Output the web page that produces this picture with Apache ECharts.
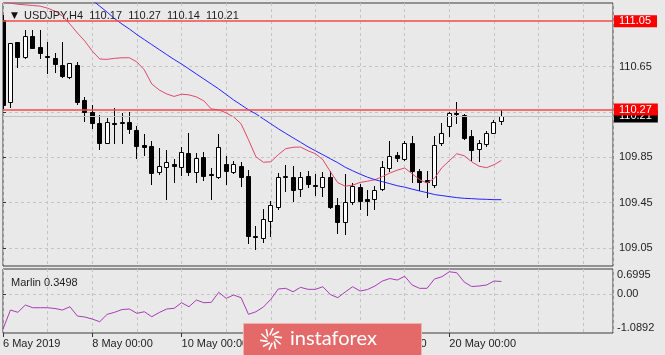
<!DOCTYPE html>
<html>
<head>
<meta charset="utf-8">
<script src="https://cdn.jsdelivr.net/npm/echarts@6/dist/echarts.min.js"></script>
<style>
html,body{margin:0;padding:0;background:#e9e9e9;}
#chart{width:665px;height:355px;}
</style>
</head>
<body>
<div id="chart"></div>
<script>
// ---- data (USDJPY, H4) ----
const symbol = 'USDJPY,H4';
const tickBars = [0, 12, 24, 36, 48, 60];
const tickLabels = ['6 May 2019', '8 May 00:00', '10 May 00:00', '14 May 00:00', '16 May 00:00', '20 May 00:00'];
const priceTicks = [110.65, 110.25, 109.85, 109.45, 109.05];
const priceLabels = [110.65, 109.85, 109.45, 109.05];
const levels = [111.05, 110.27];
const bid = 110.21;
const marlinTicks = [-1.0892, 0, 0.6995];
const marlinLast = 0.3498;

const opens = [111.06,110.335,110.868,110.736,110.918,110.82,110.745,110.727,110.663,110.555,
  110.663,110.355,110.253,110.156,109.98,110.155,110.15,110.165,110.092,109.96,
  109.951,109.72,109.76,109.793,109.764,109.886,109.717,109.852,109.705,109.676,
  109.793,109.72,109.775,109.687,109.154,109.14,109.286,109.412,109.68,109.676,
  109.571,109.681,109.602,109.588,109.676,109.432,109.277,109.453,109.585,109.485,
  109.483,109.573,109.755,109.866,109.834,109.98,109.725,109.646,109.608,109.974,
  110.127,110.244,110.224,110.033,109.921,109.969,110.068,110.17];
const highs = [111.10,110.86,110.87,110.97,110.97,110.97,110.868,110.766,110.868,110.685,
  110.692,110.385,110.31,110.224,110.2,110.283,110.238,110.25,110.127,110.057,
  109.989,109.93,109.91,109.834,109.94,110.063,109.886,109.895,109.755,110.057,
  109.857,109.82,109.804,109.734,109.242,109.395,109.461,109.711,109.778,109.769,
  109.717,109.725,109.705,109.717,109.725,109.491,109.705,109.623,109.617,109.564,
  109.6,109.813,109.989,109.9,109.989,110.033,109.746,109.725,110.033,110.15,
  110.25,110.341,110.232,110.092,110.004,110.078,110.174,110.27];
const lows = [110.28,110.29,110.65,110.722,110.81,110.727,110.59,110.605,110.56,110.55,
  110.317,110.171,110.107,109.925,109.975,109.98,109.98,110.063,109.843,109.866,
  109.614,109.705,109.483,109.63,109.696,109.696,109.63,109.646,109.483,109.67,
  109.614,109.71,109.593,109.096,109.037,109.104,109.154,109.395,109.55,109.461,
  109.512,109.588,109.52,109.512,109.405,109.183,109.177,109.44,109.395,109.344,
  109.395,109.56,109.725,109.813,109.828,109.629,109.564,109.5,109.588,109.96,
  110.033,110.15,110.01,109.828,109.813,109.95,110.063,110.14];
const closes = [110.31,110.854,110.73,110.921,110.815,110.77,110.73,110.672,110.566,110.678,
  110.335,110.247,110.15,109.975,110.16,110.145,110.158,110.1,109.945,109.94,
  109.711,109.769,109.804,109.77,109.895,109.72,109.843,109.687,109.69,109.94,
  109.725,109.793,109.673,109.154,109.145,109.307,109.432,109.676,109.682,109.559,
  109.676,109.617,109.598,109.676,109.412,109.277,109.453,109.593,109.461,109.468,
  109.559,109.764,109.857,109.843,109.974,109.725,109.629,109.63,109.96,110.063,
  110.238,110.232,110.019,109.916,109.98,110.068,110.165,110.21];
const maFast = [111.217,111.208,111.199,111.193,111.188,111.182,111.164,111.138,111.094,111.024,
  110.945,110.874,110.786,110.716,110.713,110.722,110.727,110.727,110.69,110.62,
  110.496,110.443,110.408,110.386,110.406,110.4,110.382,110.347,110.276,110.268,
  110.241,110.206,110.145,110.004,109.854,109.806,109.81,109.872,109.925,109.938,
  109.94,109.907,109.881,109.828,109.723,109.626,109.595,109.604,109.628,109.639,
  109.652,109.679,109.711,109.736,109.755,109.705,109.652,109.623,109.665,109.758,
  109.819,109.881,109.863,109.81,109.771,109.758,109.784,109.822];
const maSlow = [null,null,null,null,null,null,null,null,null,null,
  null,111.279,111.235,111.182,111.129,111.072,111.024,110.98,110.931,110.887,
  110.843,110.799,110.755,110.712,110.672,110.628,110.584,110.54,110.496,110.452,
  110.404,110.355,110.312,110.268,110.232,110.188,110.145,110.101,110.061,110.021,
  109.982,109.942,109.907,109.872,109.837,109.802,109.762,109.731,109.701,109.674,
  109.652,109.635,109.617,109.599,109.586,109.569,109.553,109.538,109.521,109.512,
  109.503,109.494,109.488,109.485,109.481,109.479,109.476,109.476];
const marlin = [-0.978,-0.447,-0.511,-0.307,-0.383,-0.383,-0.383,-0.405,-0.447,-0.355,
  -0.615,-0.643,-0.699,-0.774,-0.567,-0.511,-0.433,-0.419,-0.539,-0.495,
  -0.634,-0.517,-0.419,-0.4,-0.243,-0.355,-0.168,-0.243,-0.232,0.048,
  -0.12,-0.028,-0.103,-0.567,-0.495,-0.363,-0.148,0.14,0.159,0.064,
  0.187,0.131,0.131,0.204,-0.014,-0.103,0.056,0.204,0.084,0.126,
  0.224,0.363,0.433,0.391,0.497,0.252,0.159,0.159,0.419,0.484,
  0.623,0.595,0.335,0.21,0.224,0.252,0.363,0.3498];

// ---- chart ----
const FONT = 'Liberation Sans';
const TXT = '#1e1e1e';
const last = opens.length - 1;
const headline = symbol + '  ' + [opens[last], highs[last], lows[last], closes[last]].map(v => v.toFixed(2)).join('  ');

const candleData = opens.map((o, i) => [i, o, closes[i], lows[i], highs[i]]);

function renderCandle(params, api) {
  const i = api.value(0), o = api.value(1), c = api.value(2), l = api.value(3), h = api.value(4);
  const pO = api.coord([i, o]), pC = api.coord([i, c]), pL = api.coord([i, l]), pH = api.coord([i, h]);
  const cx = Math.floor(pO[0]);
  const yTop = Math.round(Math.min(pO[1], pC[1])) + 0.5;
  const yBot = Math.round(Math.max(pO[1], pC[1])) + 0.5;
  const bull = c > o;
  return {
    type: 'group',
    children: [
      { type: 'line', shape: { x1: cx + 0.5, y1: Math.round(pH[1]), x2: cx + 0.5, y2: Math.round(pL[1]) + 1 },
        style: { stroke: '#000', lineWidth: 1 } },
      { type: 'rect', shape: { x: cx - 1.5, y: yTop, width: 4, height: yBot - yTop },
        style: { fill: bull ? '#ffffff' : '#000000', stroke: '#000', lineWidth: 1 } }
    ]
  };
}

const gridLine = { show: true, lineStyle: { color: '#c4c4c4', type: [3, 3], width: 1 } };

const WM = { zlevel: 5, z: 100 };
const wmElems = [
  Object.assign({ type: 'rect', shape: { x: 243.5, y: 323.5, width: 178, height: 40 },
    style: { fill: '#e46a6a', stroke: '#f3b0b0', lineWidth: 1 } }, WM)
];
for (let k = 0; k < 10; k++) {
  const a = k * Math.PI * 2 / 10;
  wmElems.push(Object.assign({ type: 'line', shape: { x1: 271 + Math.cos(a) * 4, y1: 339 + Math.sin(a) * 4, x2: 271 + Math.cos(a + 0.5) * 11, y2: 339 + Math.sin(a + 0.5) * 11 },
    style: { stroke: '#fff', lineWidth: 1.6 } }, WM));
}
wmElems.push(Object.assign({ type: 'text', x: 290, y: 339,
  style: { text: 'instaforex', fill: '#fff', font: 'normal 20px Lato', textVerticalAlign: 'middle' } }, WM));

const option = {
  backgroundColor: '#e9e9e9',
  animation: false,
  title: [
    { left: 6, top: 5, text: '{t|▼} ' + headline,
      textStyle: { fontFamily: FONT, fontSize: 11, fontWeight: 'normal', color: TXT,
        rich: { t: { fontFamily: 'DejaVu Sans', fontSize: 9, color: '#111', padding: [0, 3, 0, 0] } } } },
    { left: 6, top: 272, text: 'Marlin ' + marlinLast.toFixed(4),
      textStyle: { fontFamily: FONT, fontSize: 11, fontWeight: 'normal', color: TXT } }
  ],
  grid: [
    { left: 3, top: 3, width: 610, height: 263, show: true, borderColor: '#3a3a3a', borderWidth: 1, backgroundColor: 'transparent' },
    { left: 3, top: 269, width: 610, height: 64, show: true, borderColor: '#3a3a3a', borderWidth: 1, backgroundColor: 'transparent' }
  ],
  xAxis: [
    { type: 'value', gridIndex: 0, min: 0, max: 82, interval: 6,
      axisLine: { show: false }, axisTick: { show: false }, axisLabel: { show: false }, splitLine: gridLine },
    { type: 'value', gridIndex: 1, min: 0, max: 82, interval: 6,
      axisLine: { show: false }, axisTick: { show: false }, axisLabel: { show: false }, splitLine: gridLine },
    { type: 'value', gridIndex: 1, min: 0, max: 82, position: 'bottom',
      axisLine: { show: false },
      axisTick: { show: true, customValues: tickBars, length: 4, lineStyle: { color: '#333' } },
      axisLabel: { show: true, customValues: tickBars, align: 'left', margin: 5,
        fontFamily: FONT, fontSize: 11, color: TXT,
        formatter: v => tickLabels[tickBars.indexOf(Math.round(v))] || '' },
      splitLine: { show: false } }
  ],
  yAxis: [
    { type: 'value', gridIndex: 0, position: 'right', min: 108.8913, max: 111.2098, scale: true,
      axisLine: { show: false },
      axisTick: { show: true, customValues: priceTicks, length: 3, lineStyle: { color: '#333' } },
      axisLabel: { show: true, customValues: priceLabels, margin: 6, fontFamily: FONT, fontSize: 11, color: TXT,
        formatter: v => v.toFixed(2) },
      splitLine: gridLine },
    { type: 'value', gridIndex: 1, position: 'right', min: -1.0892, max: 0.6995,
      axisLine: { show: false },
      axisTick: { show: true, customValues: [0], length: 3, lineStyle: { color: '#333' } },
      axisLabel: { show: true, customValues: marlinTicks, margin: 4, fontFamily: FONT, fontSize: 11, color: TXT,
        verticalAlignMinLabel: 'bottom', verticalAlignMaxLabel: 'top', showMinLabel: true, showMaxLabel: true,
        formatter: v => (v === 0 ? '0.00' : v.toFixed(4)) },
      splitLine: gridLine }
  ],
  series: [
    { name: 'bid', type: 'line', xAxisIndex: 0, yAxisIndex: 0, data: [], z: 1,
      markLine: { silent: true, symbol: 'none', animation: false,
        lineStyle: { color: '#c2c2c2', width: 1, type: 'solid' },
        label: { show: true, position: 'end', distance: 1, formatter: p => p.value.toFixed(2),
          backgroundColor: '#000', color: '#fff', fontFamily: FONT, fontSize: 11, lineHeight: 11, padding: [1, 6, 0, 5] },
        data: [{ yAxis: bid }] } },
    { name: 'candles', type: 'custom', xAxisIndex: 0, yAxisIndex: 0, clip: true, z: 2,
      renderItem: renderCandle, encode: { x: 0, y: [1, 2, 3, 4] }, data: candleData },
    { name: 'MA fast', type: 'line', xAxisIndex: 0, yAxisIndex: 0, z: 3, showSymbol: false, clip: true,
      lineStyle: { color: '#e0486a', width: 1 }, data: maFast.map((v, i) => [i, v]) },
    { name: 'MA slow', type: 'line', xAxisIndex: 0, yAxisIndex: 0, z: 3, showSymbol: false, clip: true, connectNulls: false,
      lineStyle: { color: '#2424ff', width: 1 }, data: maSlow.map((v, i) => [i, v]) },
    { name: 'levels', type: 'line', xAxisIndex: 0, yAxisIndex: 0, data: [], z: 5,
      markLine: { silent: true, symbol: 'none', animation: false,
        lineStyle: { color: '#f54848', width: 1.6, type: 'solid' },
        label: { show: true, position: 'end', distance: 1, formatter: p => p.value.toFixed(2),
          backgroundColor: '#ff0000', color: '#fff', fontFamily: FONT, fontSize: 11, lineHeight: 11, padding: [1, 6, 0, 5] },
        data: levels.map(v => ({ yAxis: v })) } },
    { name: 'Marlin', type: 'line', xAxisIndex: 1, yAxisIndex: 1, showSymbol: false, clip: true,
      lineStyle: { color: '#a83cb6', width: 1 }, data: marlin.map((v, i) => [i, v]) }
  ],
  graphic: { elements: wmElems }
};

const chart = echarts.init(document.getElementById('chart'), null, { renderer: 'canvas' });
chart.setOption(option);
</script>
</body>
</html>
